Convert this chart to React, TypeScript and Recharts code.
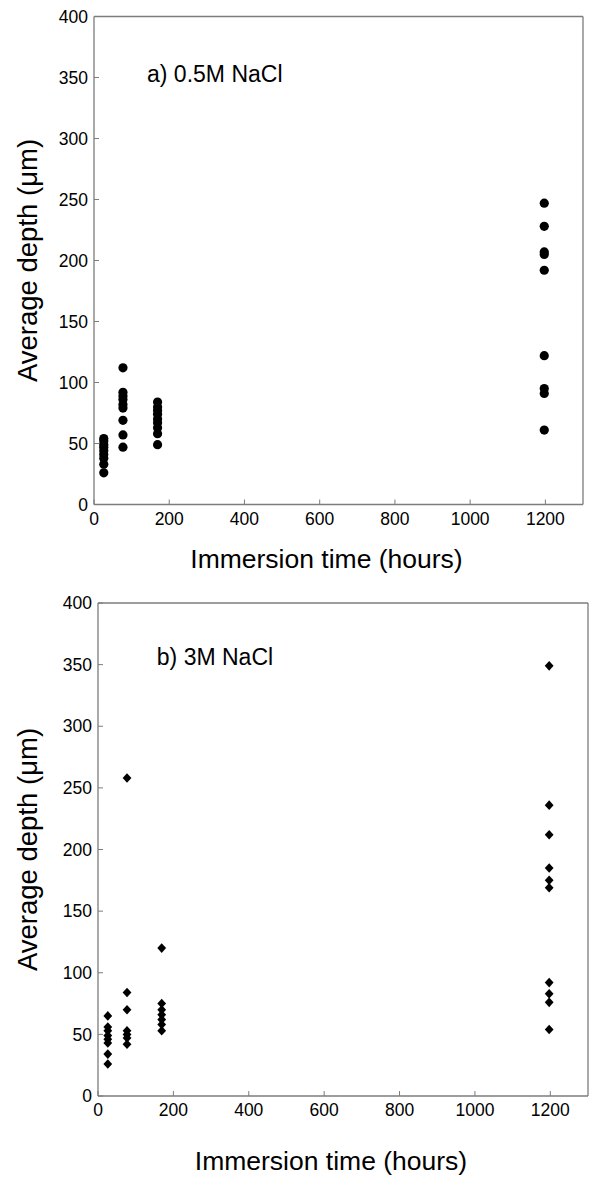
import {
  ScatterChart,
  Scatter,
  XAxis,
  YAxis,
  ReferenceDot,
} from "recharts";

// immersion times (hours) of the four sampling groups
const HOURS = [26, 77, 169, 1197];

// a) 0.5M NaCl, average pit depth (µm)
const depthA_day1 = [54, 52, 49, 47, 44, 41, 38, 33, 26];
const depthA_day3 = [112, 92, 89, 86, 82, 79, 69, 57, 47];
const depthA_day7 = [84, 80, 77, 74, 70, 67, 63, 58, 49];
const depthA_day50 = [247, 228, 207, 205, 192, 122, 95, 91, 61];

// b) 3M NaCl
const depthB_day1 = [65, 56, 53, 49, 46, 43, 34, 26];
const depthB_day3 = [258, 84, 70, 53, 50, 47, 42];
const depthB_day7 = [120, 75, 70, 66, 62, 58, 53];
const depthB_day50 = [349, 236, 212, 185, 175, 169, 92, 83, 76, 54];

const X_TICKS = [0, 200, 400, 600, 800, 1000, 1200];
const Y_TICKS = [0, 50, 100, 150, 200, 250, 300, 350, 400];

const FONT = '"Liberation Sans", Arial, Helvetica, sans-serif';
const FRAME = "#7c7c7c";

const toPoints = (groups: number[][]) =>
  groups.flatMap((g, i) => g.map((y) => ({ x: HOURS[i], y })));

const circle = (p: any) => <circle cx={p.cx} cy={p.cy} r={4.6} fill="#000" />;

const diamond = (p: any) => (
  <polygon
    points={`${p.cx},${p.cy - 4.8} ${p.cx + 4.4},${p.cy} ${p.cx},${p.cy + 4.8} ${p.cx - 4.4},${p.cy}`}
    fill="#000"
  />
);

const tickStyle = { fontFamily: FONT, fontSize: 17.5, fill: "#000" };
const blank = () => "";

function PitPanel({
  data,
  shape,
  note,
  noteAt,
  top,
  bottomAxis,
  rightAxis,
  titleGap,
}: {
  data: { x: number; y: number }[];
  shape: (p: any) => JSX.Element;
  note: string;
  noteAt: [number, number];
  top: number;
  bottomAxis: number;
  rightAxis: number;
  titleGap: number;
}) {
  return (
    <ScatterChart
      width={589}
      height={590}
      margin={{ top: top - 10, right: 0, bottom: 0, left: 0 }}
      style={{ fontFamily: FONT }}
    >
      <XAxis
        type="number"
        dataKey="x"
        domain={[0, 1300]}
        ticks={X_TICKS}
        height={bottomAxis}
        tick={tickStyle}
        tickSize={-5}
        tickMargin={13}
        stroke={FRAME}
        axisLine={{ stroke: FRAME, strokeWidth: 1.3 }}
        tickLine={{ stroke: FRAME }}
        label={{
          content: ({ viewBox }: any) => (
            <text
              x={viewBox.x + viewBox.width / 2 - 12}
              y={viewBox.y + titleGap}
              textAnchor="middle"
              fontFamily={FONT}
              fontSize={26.5}
              fill="#000"
            >
              Immersion time (hours)
            </text>
          ),
        }}
      />
      <XAxis
        xAxisId="top"
        orientation="top"
        type="number"
        domain={[0, 1300]}
        ticks={X_TICKS}
        height={10}
        tickFormatter={blank}
        tickSize={-5}
        axisLine={{ stroke: FRAME, strokeWidth: 1.3 }}
        tickLine={{ stroke: FRAME }}
      />
      <YAxis
        type="number"
        dataKey="y"
        domain={[0, 400]}
        ticks={Y_TICKS}
        width={94 + (rightAxis === 1 ? 4 : 0)}
        tick={tickStyle}
        tickSize={-5}
        tickMargin={11}
        axisLine={{ stroke: FRAME, strokeWidth: 1.3 }}
        tickLine={{ stroke: FRAME }}
        label={{
          content: ({ viewBox }: any) => {
            const cx = 37;
            const cy = viewBox.y + viewBox.height / 2;
            return (
              <text
                x={cx}
                y={cy}
                transform={`rotate(-90, ${cx}, ${cy})`}
                textAnchor="middle"
                fontFamily={FONT}
                fontSize={27.5}
                fill="#000"
              >
                Average depth (μm)
              </text>
            );
          },
        }}
      />
      <YAxis
        yAxisId="right"
        orientation="right"
        type="number"
        domain={[0, 400]}
        ticks={Y_TICKS}
        width={rightAxis}
        tickFormatter={blank}
        tickSize={-5}
        axisLine={{ stroke: FRAME, strokeWidth: 1.3 }}
        tickLine={{ stroke: FRAME }}
      />
      <ReferenceDot
        x={noteAt[0]}
        y={noteAt[1]}
        r={0}
        fill="none"
        stroke="none"
        label={{
          value: note,
          position: "right",
          offset: 0,
          fontFamily: FONT,
          fontSize: 23,
          fill: "#000",
        }}
      />
      <Scatter data={data} shape={shape} isAnimationActive={false} />
    </ScatterChart>
  );
}

export default function App() {
  const dataA = toPoints([depthA_day1, depthA_day3, depthA_day7, depthA_day50]);
  const dataB = toPoints([depthB_day1, depthB_day3, depthB_day7, depthB_day50]);
  return (
    <div
      style={{
        position: "absolute",
        left: 0,
        top: 0,
        width: 589,
        height: 1180,
        background: "#fff",
        overflow: "hidden",
      }}
    >
      <div style={{ position: "absolute", left: 0, top: 0 }}>
        <PitPanel
          data={dataA}
          shape={circle}
          note="a) 0.5M NaCl"
          noteAt={[141, 353]}
          top={16.5}
          bottomAxis={85.5}
          rightAxis={6}
          titleGap={63}
        />
      </div>
      <div style={{ position: "absolute", left: 0, top: 590 }}>
        <PitPanel
          data={dataB}
          shape={diamond}
          note="b) 3M NaCl"
          noteAt={[156, 356]}
          top={13}
          bottomAxis={84}
          rightAxis={1}
          titleGap={74}
        />
      </div>
    </div>
  );
}
